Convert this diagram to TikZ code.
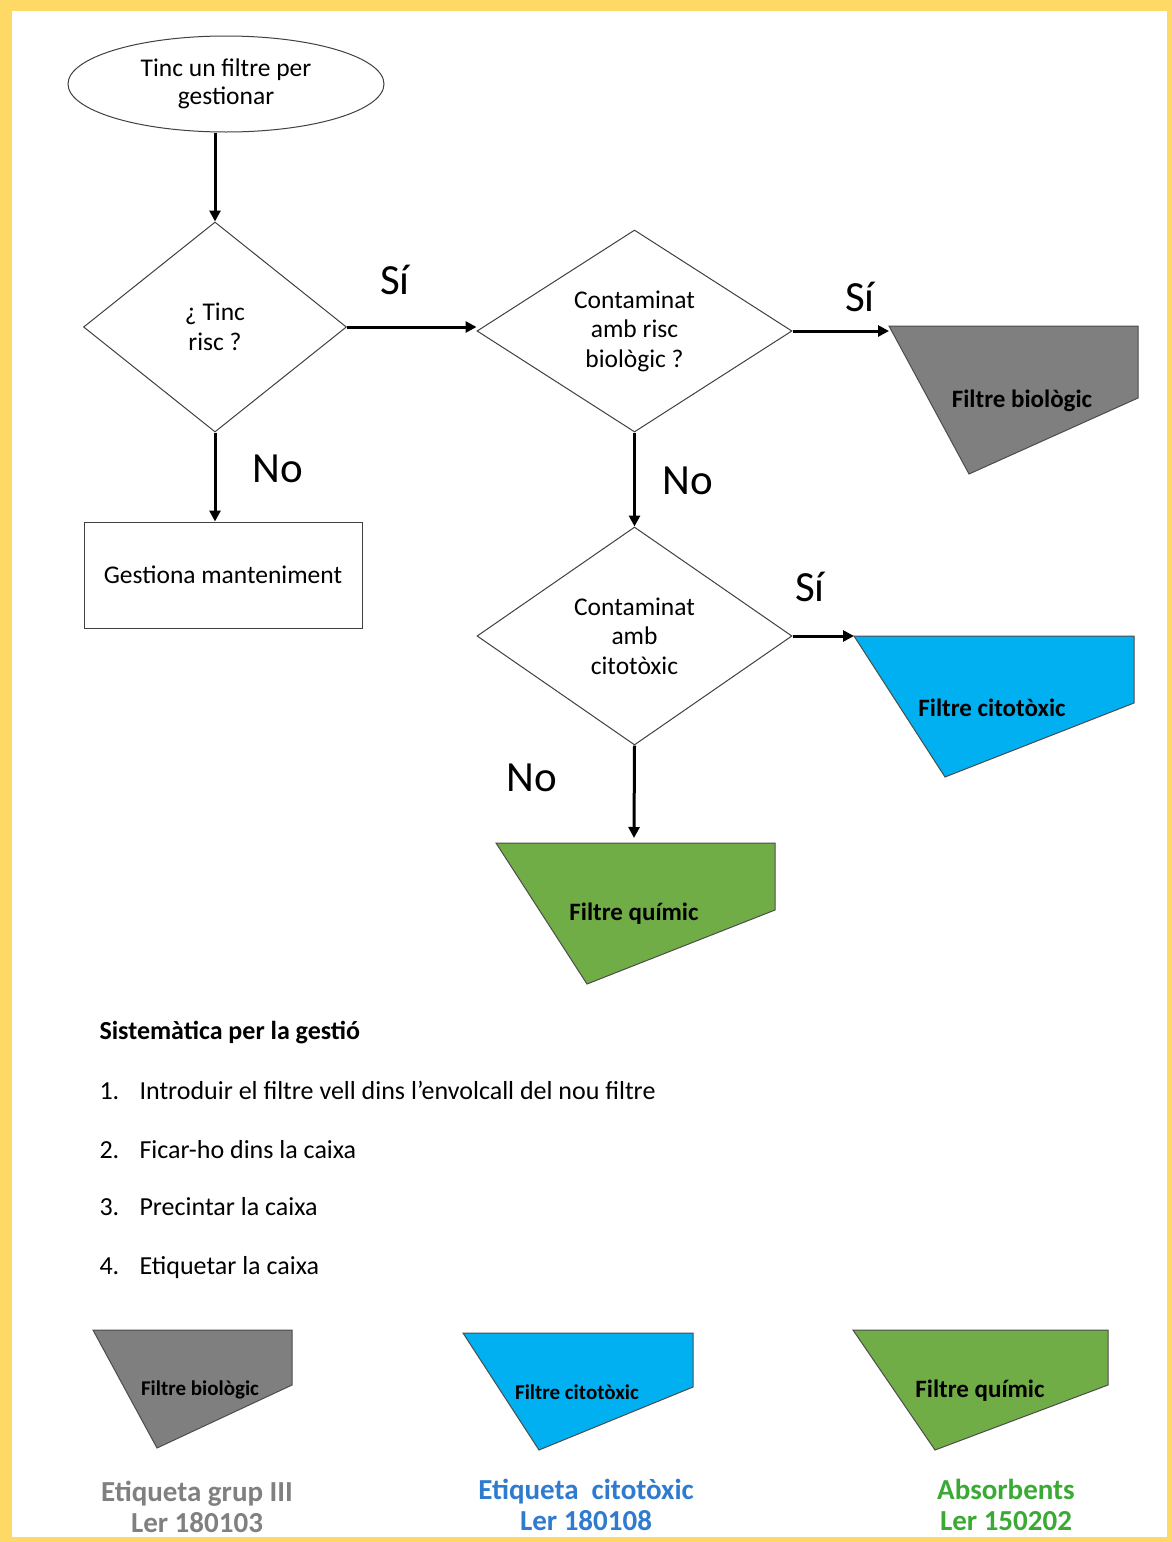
\documentclass[tikz,border=0pt]{standalone}
\usepackage{fontspec}
\setmainfont{Carlito}
\usetikzlibrary{shapes.geometric,arrows.meta}
\definecolor{gold}{HTML}{FFD966}
\definecolor{biogray}{HTML}{7F7F7F}
\definecolor{citblue}{HTML}{00B0F0}
\definecolor{quigreen}{HTML}{70AD47}
\definecolor{labblue}{HTML}{2E7BD0}
\definecolor{labgreen}{HTML}{3AAA35}
\definecolor{labgray}{HTML}{808080}
\newcommand\fz[2]{\fontsize{#1}{#2}\selectfont}
\begin{document}
\begin{tikzpicture}[x=1pt,y=-1pt,
  arr/.style={line width=3pt,-{Triangle[length=11pt,width=11pt]}},
  outl/.style={draw=black!75,line width=1pt},
  dia/.style={diamond,outl,inner sep=0pt,align=center,font=\fz{25.5}{29.5}},
  yn/.style={font=\fz{43}{43}},
  flt/.style={draw=black!70,line width=1pt},
  flab/.style={font=\bfseries\fz{25}{25}},
  sflab/.style={font=\bfseries\fz{21}{21}},
  item/.style={anchor=base west,font=\fz{26}{26}},
  blab/.style={align=center,font=\bfseries\fz{29}{31}}]
\fill[gold] (0,0) rectangle (1172,1542);
\fill[white] (12,11) rectangle (1167,1537);
\useasboundingbox (0,0) rectangle (1172,1542);

% start
\node[ellipse,outl,minimum width=316pt,minimum height=96pt,inner sep=0pt,align=center,font=\fz{25.5}{28}] (start) at (226,84) {Tinc un filtre per\\gestionar};

% decisions
\node[dia,minimum width=263pt,minimum height=210pt] (d1) at (215,327) {¿ Tinc\\risc ?};
\node[dia,minimum width=315pt,minimum height=202pt] (d2) at (634.5,331) {Contaminat\\amb risc\\biològic ?};
\node[dia,minimum width=315pt,minimum height=218pt] (d3) at (634.5,636) {Contaminat\\amb\\citotòxic};

% maintenance box
\node[rectangle,outl,minimum width=278pt,minimum height=106pt,font=\fz{25.5}{28}] (gest) at (223,575) {Gestiona manteniment};

% filter shapes
\coordinate (bioA) at (889,331);
\filldraw[flt,fill=biogray] (889,326) -- (1138,326) -- (1138,398) -- (969,474) -- cycle;
\node[flab] (biot) at (1022,401) {Filtre biològic};

\coordinate (citA) at (854,636);
\filldraw[flt,fill=citblue] (854,636) -- (1134,636) -- (1134,703) -- (945,777) -- cycle;
\node[flab] (citt) at (992,708) {Filtre citotòxic};

\coordinate (quiA) at (634,838);
\filldraw[flt,fill=quigreen] (496,843) -- (775,843) -- (775,910) -- (587,984) -- cycle;
\node[flab] (quit) at (634,914) {Filtre químic};

% connectors
\draw[arr] (d1.north |- start.south) -- (d1.north);
\draw[arr] (d1.east) -- (d1.east -| d2.west);
\draw[arr] (d1.south) -- (d1.south |- gest.north);
\draw[arr] (d2.east) -- (bioA);
\draw[arr] (d2.south) -- (d3.north);
\draw[arr] (d3.east) -- (citA);
\draw[arr] (d3.south) -- (quiA);

% labels
\node[yn] (s1) at (395,280) {Sí};
\node[yn] (s2) at (860,297) {Sí};
\node[yn] (s3) at (810,587) {Sí};
\node[yn] (n1) at (278,469) {No};
\node[yn] (n2) at (688,481) {No};
\node[yn] (n3) at (532,778) {No};

% procedure
\node[item,font=\bfseries\fz{26}{26}] (hd) at (96,1039) {Sistemàtica per la gestió};
\node[item] (i1n) at (96,1099) {1.};
\node[item] (i1) at (136,1099) {Introduir el filtre vell dins l’envolcall del nou filtre};
\node[item] (i2n) at (96,1158) {2.};
\node[item] (i2) at (136,1158) {Ficar-ho dins la caixa};
\node[item] (i3n) at (96,1215) {3.};
\node[item] (i3) at (136,1215) {Precintar la caixa};
\node[item] (i4n) at (96,1274) {4.};
\node[item] (i4) at (136,1274) {Etiquetar la caixa};

% legend shapes
\filldraw[flt,fill=biogray] (93,1330) -- (292,1330) -- (292,1385) -- (157,1448) -- cycle;
\node[sflab] (lb1) at (200,1390) {Filtre biològic};
\filldraw[flt,fill=citblue] (463,1333) -- (693,1333) -- (693,1387) -- (539,1450) -- cycle;
\node[sflab] (lb2) at (577,1392) {Filtre citotòxic};
\filldraw[flt,fill=quigreen] (853,1330) -- (1108,1330) -- (1108,1385) -- (935,1450) -- cycle;
\node[flab] (lb3) at (980,1391) {Filtre químic};

\node[blab,text=labgray] (e1) at (197,1507) {Etiqueta grup III\\Ler 180103};
\node[blab,text=labblue] (e2) at (586,1505) {Etiqueta\ \ citotòxic\\Ler 180108};
\node[blab,text=labgreen] (e3) at (1006,1505) {Absorbents\\Ler 150202};
\end{tikzpicture}
\end{document}
